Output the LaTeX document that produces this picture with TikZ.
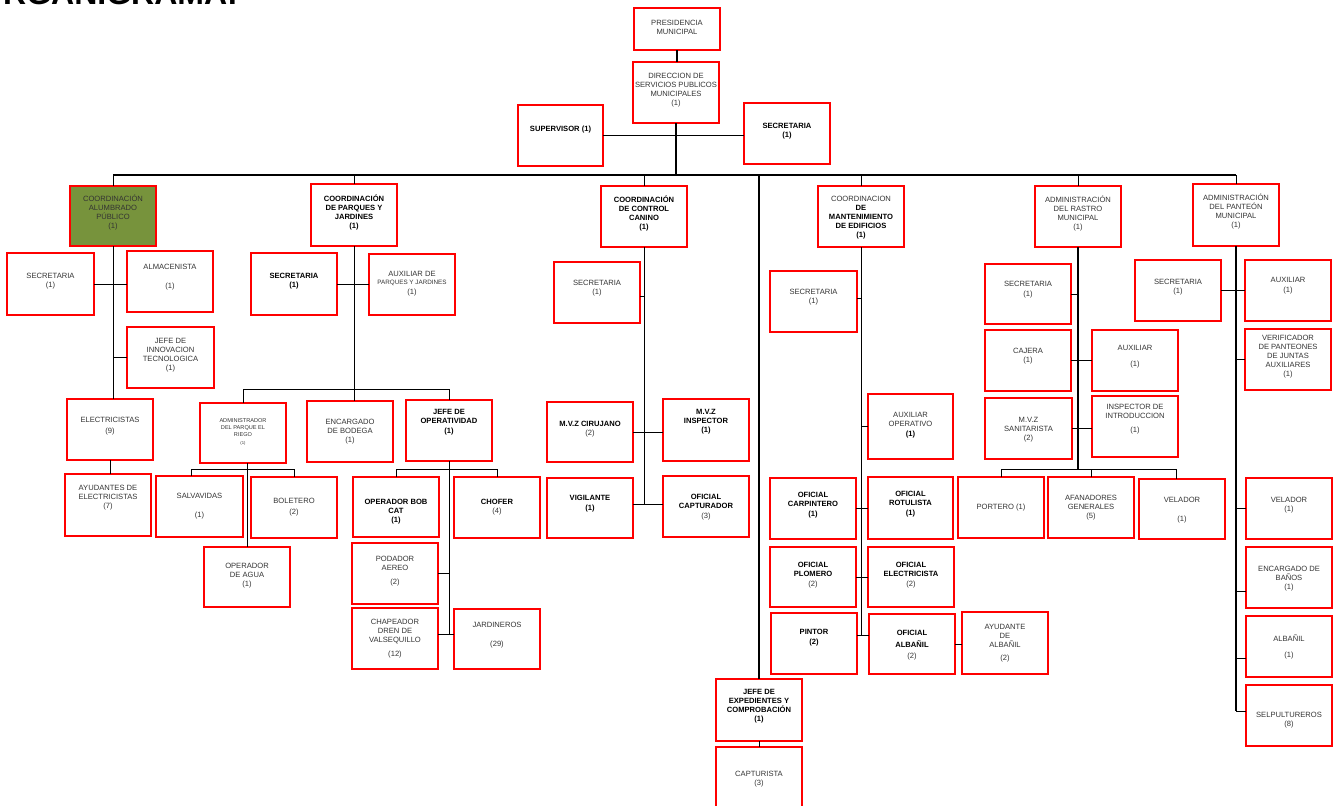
\documentclass[tikz,border=0pt]{standalone}
\usepackage{fontspec}
\setmainfont{Liberation Sans}
\usetikzlibrary{fit,calc}
\definecolor{txtgray}{RGB}{51,51,51}
\definecolor{olivebox}{RGB}{119,147,60}
\definecolor{boxred}{RGB}{255,0,0}
\newcommand\obox[9][]{%
  \node[box,#1,fit={(#3,#4) (#5,#6)}] (#2) {};
  \node[#8] (#2t) at ([yshift=#7pt]#2.center) {#9};}
\newcommand\Bx[1]{{\bfseries\color{black}#1}}
\newcommand\Nx[1]{{\mdseries\color{txtgray}#1}}
\tikzset{
  box/.style={draw=boxred, line width=1.3pt, inner sep=0pt, outer sep=0pt},
  tn/.style={align=center, inner sep=0pt, font=\fontsize{7.6}{9}\selectfont, text=txtgray},
  tb/.style={align=center, inner sep=0pt, font=\fontsize{7.6}{9}\selectfont\bfseries, text=black},
  ts/.style={align=center, inner sep=0pt, font=\fontsize{5.6}{7}\selectfont, text=txtgray},
  ln/.style={draw=black, line width=0.9pt},
  trunk/.style={draw=black, line width=1.2pt},
}
\begin{document}
\begin{tikzpicture}[x=1pt,y=-1pt]
\useasboundingbox (0,0) rectangle (1334,806);
\node[font=\fontsize{32}{32}\selectfont\bfseries, anchor=base east, inner sep=0pt] (title) at (238,4.5) {ORGANIGRAMA:};

% top
\obox{pres}{634}{8}{720}{50}{2}{tn}{PRESIDENCIA\\MUNICIPAL}
\obox{dir}{633}{62}{719}{123}{2.5}{tn}{DIRECCION DE\\SERVICIOS PUBLICOS\\MUNICIPALES\\(1)}
\obox{sup}{518}{105}{603}{166}{6}{tb}{SUPERVISOR (1)}
\obox{sec0}{744}{103}{830}{164}{2}{tb}{SECRETARIA\\(1)}

% level 1
\obox[fill=olivebox]{alum}{70}{186}{156}{246}{4}{tn}{COORDINACIÓN\\ALUMBRADO\\PÚBLICO\\(1)}
\obox{parq}{311}{184}{397}{246}{3}{tb}{COORDINACIÓN\\DE PARQUES Y\\JARDINES\\(1)}
\obox{can}{601}{186}{687}{247}{3}{tb}{COORDINACIÓN\\DE CONTROL\\CANINO\\(1)}
\obox{mant}{818}{186}{904}{247}{-1}{tb}{\Nx{COORDINACION}\\DE\\MANTENIMIENTO\\DE EDIFICIOS\\(1)}
\obox{rastro}{1035}{186}{1121}{247}{3}{tn}{ADMINISTRACIÓN\\DEL RASTRO\\MUNICIPAL\\(1)}
\obox{pant}{1193}{184}{1279}{246}{4}{tn}{ADMINISTRACIÓN\\DEL PANTEÓN\\MUNICIPAL\\(1)}

% alumbrado
\obox{a_sec}{7}{253}{94}{315}{3}{tn}{SECRETARIA\\(1)}
\obox{a_alm}{127}{251}{213}{312}{4}{tn}{ALMACENISTA\\[10pt](1)}
\obox{a_inn}{127}{327}{214}{388}{2}{tn}{JEFE DE\\INNOVACION\\TECNOLOGICA\\(1)}
\obox{a_ele}{67}{399}{153}{460}{3}{tn}{ELECTRICISTAS\\[2pt](9)}
\obox{a_ayu}{65}{474}{151}{536}{7}{tn}{AYUDANTES DE\\ELECTRICISTAS\\(7)}

% parques
\obox{p_sec}{251}{253}{337}{315}{3}{tb}{SECRETARIA\\(1)}
\obox{p_aux}{369}{254}{455}{315}{1}{tn}{AUXILIAR DE\\[-1pt]{\fontsize{6.3}{7}\selectfont PARQUES Y JARDINES}\\[1pt](1)}
\obox{p_adm}{200}{403}{286}{463}{1}{ts}{ADMINISTRADOR\\DEL PARQUE EL\\RIEGO\\[1pt]{\fontsize{4.2}{5}\selectfont (1)}}
\obox{p_enc}{307}{401}{393}{462}{0}{tn}{ENCARGADO\\DE BODEGA\\(1)}
\obox{p_jef}{406}{400}{492}{461}{8}{tb}{JEFE DE\\OPERATIVIDAD\\[1pt](1)}
\obox{p_sal}{156}{476}{243}{537}{0}{tn}{SALVAVIDAS\\[10pt](1)}
\obox{p_bol}{251}{477}{337}{538}{0}{tn}{BOLETERO\\[2pt](2)}
\obox{p_agu}{204}{547}{290}{607}{1}{tn}{OPERADOR\\DE AGUA\\(1)}
\obox{p_bob}{353}{477}{439}{537}{-5}{tb}{OPERADOR BOB\\CAT\\(1)}
\obox{p_cho}{454}{477}{540}{538}{0}{tb}{CHOFER\\\Nx{(4)}}
\obox{p_pod}{352}{543}{438}{604}{2}{tn}{PODADOR\\AEREO\\[5pt](2)}
\obox{p_cha}{352}{608}{438}{669}{0}{tn}{CHAPEADOR\\DREN DE\\VALSEQUILLO\\[5pt](12)}
\obox{p_jar}{454}{609}{540}{669}{4}{tn}{JARDINEROS\\[10pt](29)}

% canino
\obox{c_sec}{554}{262}{640}{323}{4}{tn}{SECRETARIA\\(1)}
\obox{c_mvz1}{547}{402}{633}{462}{3}{tb}{M.V.Z CIRUJANO\\\Nx{(2)}}
\obox{c_mvz2}{663}{399}{749}{461}{8}{tb}{M.V.Z\\INSPECTOR\\(1)}
\obox{c_vig}{547}{478}{633}{538}{4}{tb}{VIGILANTE\\[1pt](1)}
\obox{c_cap}{663}{476}{749}{537}{-1}{tb}{OFICIAL\\CAPTURADOR\\[1pt]\Nx{(3)}}

% mantenimiento
\obox{m_sec}{770}{271}{857}{332}{4}{tn}{SECRETARIA\\(1)}
\obox{m_aux}{868}{394}{953}{459}{1}{tn}{AUXILIAR\\OPERATIVO\\[1pt]\Bx{(1)}}
\obox{m_car}{770}{478}{856}{539}{3}{tb}{OFICIAL\\CARPINTERO\\[1pt](1)}
\obox{m_rot}{868}{477}{953}{539}{4}{tb}{OFICIAL\\ROTULISTA\\[1pt](1)}
\obox{m_plo}{770}{547}{856}{607}{2}{tb}{OFICIAL\\PLOMERO\\[1pt]\Nx{(2)}}
\obox{m_ele}{868}{547}{954}{607}{2}{tb}{OFICIAL\\ELECTRICISTA\\[1pt]\Nx{(2)}}
\obox{m_pin}{771}{613}{857}{674}{6}{tb}{PINTOR\\[1pt](2)}
\obox{m_alb}{869}{614}{955}{674}{-1}{tb}{OFICIAL\\[3pt]ALBAÑIL\\[2pt]\Nx{(2)}}
\obox{m_ayu}{962}{612}{1048}{674}{0}{tn}{AYUDANTE\\DE\\ALBAÑIL\\[4pt](2)}
\obox{m_jef}{716}{679}{802}{741}{4}{tb}{JEFE DE\\EXPEDIENTES Y\\COMPROBACIÓN\\(1)}
\obox{m_cap}{716}{747}{802}{808}{-2}{tn}{CAPTURISTA\\(3)}

% rastro
\obox{r_sec}{985}{264}{1071}{324}{4}{tn}{SECRETARIA\\[1pt](1)}
\obox{r_caj}{985}{330}{1071}{391}{4}{tn}{CAJERA\\(1)}
\obox{r_aux}{1092}{330}{1178}{391}{3.5}{tn}{AUXILIAR\\[7pt](1)}
\obox{r_mvz}{985}{398}{1072}{459}{-1}{tn}{M.V.Z\\SANITARISTA\\(2)}
\obox{r_ins}{1092}{396}{1178}{457}{7}{tn}{INSPECTOR DE\\INTRODUCCION\\[5pt](1)}
\obox{r_por}{958}{477}{1044}{538}{0}{tn}{PORTERO (1)}
\obox{r_afa}{1048}{477}{1134}{538}{0}{tn}{AFANADORES\\GENERALES\\(5)}
\obox{r_vel}{1139}{479}{1225}{539}{-1}{tn}{VELADOR\\[10pt](1)}

% panteon
\obox{t_sec}{1135}{260}{1221}{321}{3.5}{tn}{SECRETARIA\\(1)}
\obox{t_aux}{1245}{260}{1331}{321}{4.5}{tn}{AUXILIAR\\[1pt](1)}
\obox{t_ver}{1245}{329}{1331}{390}{3}{tn}{VERIFICADOR\\DE PANTEONES\\DE JUNTAS\\AUXILIARES\\(1)}
\obox{t_vel}{1246}{478}{1332}{539}{3.5}{tn}{VELADOR\\(1)}
\obox{t_ban}{1246}{547}{1332}{608}{-1}{tn}{ENCARGADO DE\\BAÑOS\\(1)}
\obox{t_alb}{1246}{616}{1332}{677}{0}{tn}{ALBAÑIL\\[7pt](1)}
\obox{t_sep}{1246}{685}{1332}{746}{-5}{tn}{SELPULTUREROS\\(8)}

% ---- connectors ----
\coordinate (busy) at (0,175);
\draw[trunk] (pres.south) -- (pres.south |- dir.north);
\draw[trunk] (dir.south) -- (dir.south |- busy);
\draw[trunk] (sup.east) -- (sup.east -| sec0.west);
\draw[trunk] (alum.north |- busy) -- (pant.north |- busy);
\foreach \n in {alum,parq,can,mant,rastro,pant}
  \draw[ln] (\n.north |- busy) -- (\n.north);
\draw[trunk] (m_jef.north |- busy) -- (m_jef.north);

% alumbrado
\draw[ln] (alum.south) -- (alum.south |- a_ele.north);
\draw[ln] (a_sec.east) -- (a_sec.east -| a_alm.west);
\draw[ln] (a_inn.west) -- (a_inn.west -| alum.south);
\draw[ln] (a_ele.south) -- (a_ele.south |- a_ayu.north);

% parques
\coordinate (pbus) at (0,389);
\draw[ln] (parq.south) -- (parq.south |- p_enc.north);
\draw[ln] (p_adm.north) -- (p_adm.north |- pbus) -- (p_jef.north |- pbus) -- (p_jef.north);
\draw[ln] (p_sec.east) -- (p_sec.east -| p_aux.west);
\coordinate (abus) at (191,469);
\draw[ln] (p_agu.north |- p_adm.south) -- (p_agu.north);
\draw[ln] (abus |- p_sal.north) -- (abus) -- (abus -| p_bol.north) -- (p_bol.north);
\coordinate (jbus) at (0,469);
\coordinate (jj) at (0,634);
\draw[ln] (p_jef.south) -- (p_jef.south |- jj);
\draw[ln] (p_bob.north) -- (p_bob.north |- jbus) -- (p_cho.north |- jbus) -- (p_cho.north);
\draw[ln] (p_pod.east) -- (p_pod.east -| p_jef.south);
\draw[ln] (p_cha.east |- jj) -- (p_jar.west |- jj);

% canino
\coordinate (cv) at ([yshift=2pt]c_cap.west);
\coordinate (cs) at ([yshift=-4pt]c_sec.east);
\draw[ln] (can.south) -- (can.south |- cv);
\draw[ln] (c_vig.east |- cv) -- (cv);
\draw[ln] (cs) -- (cs -| can.south);
\draw[ln] (c_mvz1.east) -- (c_mvz1.east -| c_mvz2.west);

% mantenimiento
\coordinate (mj) at (0,635);
\coordinate (ms) at ([yshift=3.5pt]m_sec.east);
\draw[ln] (mant.south) -- (mant.south |- mj);
\draw[ln] (ms) -- (ms -| mant.south);
\draw[ln] (m_aux.west) -- (m_aux.west -| mant.south);
\draw[ln] (m_car.east) -- (m_car.east -| m_rot.west);
\draw[ln] (m_plo.east) -- (m_plo.east -| m_ele.west);
\draw[ln] (m_pin.east |- mj) -- (m_alb.west |- mj);
\draw[ln] (m_alb.east) -- (m_alb.east -| m_ayu.west);
\draw[ln] (m_jef.south) -- (m_cap.north);

% rastro
\coordinate (rbus) at (0,469);
\coordinate (rv) at ([xshift=-6pt]r_vel.north);
\draw[trunk] (rastro.south) -- (rastro.south |- rbus);
\draw[ln] (r_por.north) -- (r_por.north |- rbus) -- (rv |- rbus) -- (rv);
\draw[ln] (r_afa.north |- rbus) -- (r_afa.north);
\draw[ln] (r_sec.east) -- (r_sec.east -| rastro.south);
\draw[ln] (r_caj.east) -- (r_caj.east -| r_aux.west);
\draw[ln] (r_mvz.east) -- (r_mvz.east -| r_ins.west);

% panteon
\coordinate (tsp) at ([yshift=4.5pt]t_sep.west);
\coordinate (tbn) at ([yshift=-14pt]t_ban.west);
\coordinate (tal) at ([yshift=-12pt]t_alb.west);
\draw[trunk] (pant.south) -- (pant.south |- tsp);
\draw[ln] (t_sec.east) -- (t_sec.east -| t_aux.west);
\draw[ln] (t_ver.west) -- (t_ver.west -| pant.south);
\draw[ln] (t_vel.west) -- (t_vel.west -| pant.south);
\draw[ln] (tbn) -- (tbn -| pant.south);
\draw[ln] (tal) -- (tal -| pant.south);
\draw[ln] (tsp) -- (tsp -| pant.south);
\end{tikzpicture}
\end{document}
